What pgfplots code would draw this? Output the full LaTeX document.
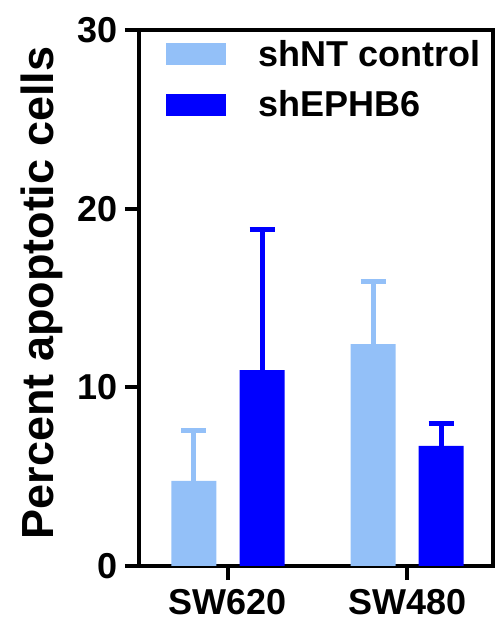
\documentclass[border=0pt]{standalone}
\usepackage{fontspec}
\setmainfont{Liberation Sans}
\usepackage{pgfplots}
\pgfplotsset{compat=1.18}
\definecolor{lightb}{RGB}{147,192,248}
\definecolor{darkb}{RGB}{0,0,255}
\begin{document}
\begin{tikzpicture}
\useasboundingbox (0,0) rectangle (497bp,621bp);
\begin{axis}[
  at={(139bp,55bp)}, anchor=south west,
  scale only axis, width=354bp, height=536bp,
  xmin=-0.497, xmax=1.480, ymin=0, ymax=30,
  xtick={0,1}, xticklabels={SW620,SW480},
  ytick={0,10,20,30},
  tick align=outside, tick pos=left,
  major tick length=14bp,
  axis line style={line width=4bp},
  every tick/.style={line width=4bp, black},
  /pgf/number format/assume math mode=true,
  ticklabel style={font=\fontsize{36bp}{40bp}\selectfont\bfseries, inner sep=0pt},
  yticklabel style={xshift=-7bp},
  xticklabel style={yshift=-9bp},
  ylabel={Percent apoptotic cells},
  ylabel style={font=\fontsize{45bp}{48bp}\selectfont\bfseries, at={(axis description cs:-0.274,0.509)}, anchor=center, rotate=0, inner sep=0pt},
  legend cell align=left,
  legend style={at={(axis description cs:0.068,1)}, anchor=north west, yshift=-8bp, draw=none, fill=none,
    font=\fontsize{36bp}{40bp}\selectfont\bfseries, row sep=23bp, column sep=0pt, nodes={inner sep=0pt}},
  legend image code/.code={\fill[#1] (0bp,-11bp) rectangle (60bp,11bp); \path (92bp,0bp);},
  extra description/.code={\draw[line width=3.5bp, line cap=rect] (rel axis cs:0,1) -- (rel axis cs:1,1) -- (rel axis cs:1,0);},
]
\addplot[ybar, bar width=0.2514, bar shift=0, fill=lightb, draw=none,
  error bars/.cd, y dir=plus, y explicit,
  error bar style={line width=5bp, lightb},
  error mark options={line width=5bp, lightb, mark size=12.5bp, rotate=90}]
  coordinates {(-0.19,4.76) +- (0,2.85) (0.81,12.42) +- (0,3.53)};
\addlegendentry{shNT control}
\addplot[ybar, bar width=0.2514, bar shift=0, fill=darkb, draw=none,
  error bars/.cd, y dir=plus, y explicit,
  error bar style={line width=5bp, darkb},
  error mark options={line width=5bp, darkb, mark size=12.5bp, rotate=90}]
  coordinates {(0.19,10.97) +- (0,7.89) (1.19,6.72) +- (0,1.28)};
\addlegendentry{shEPHB6}
\end{axis}
\end{tikzpicture}
\end{document}
